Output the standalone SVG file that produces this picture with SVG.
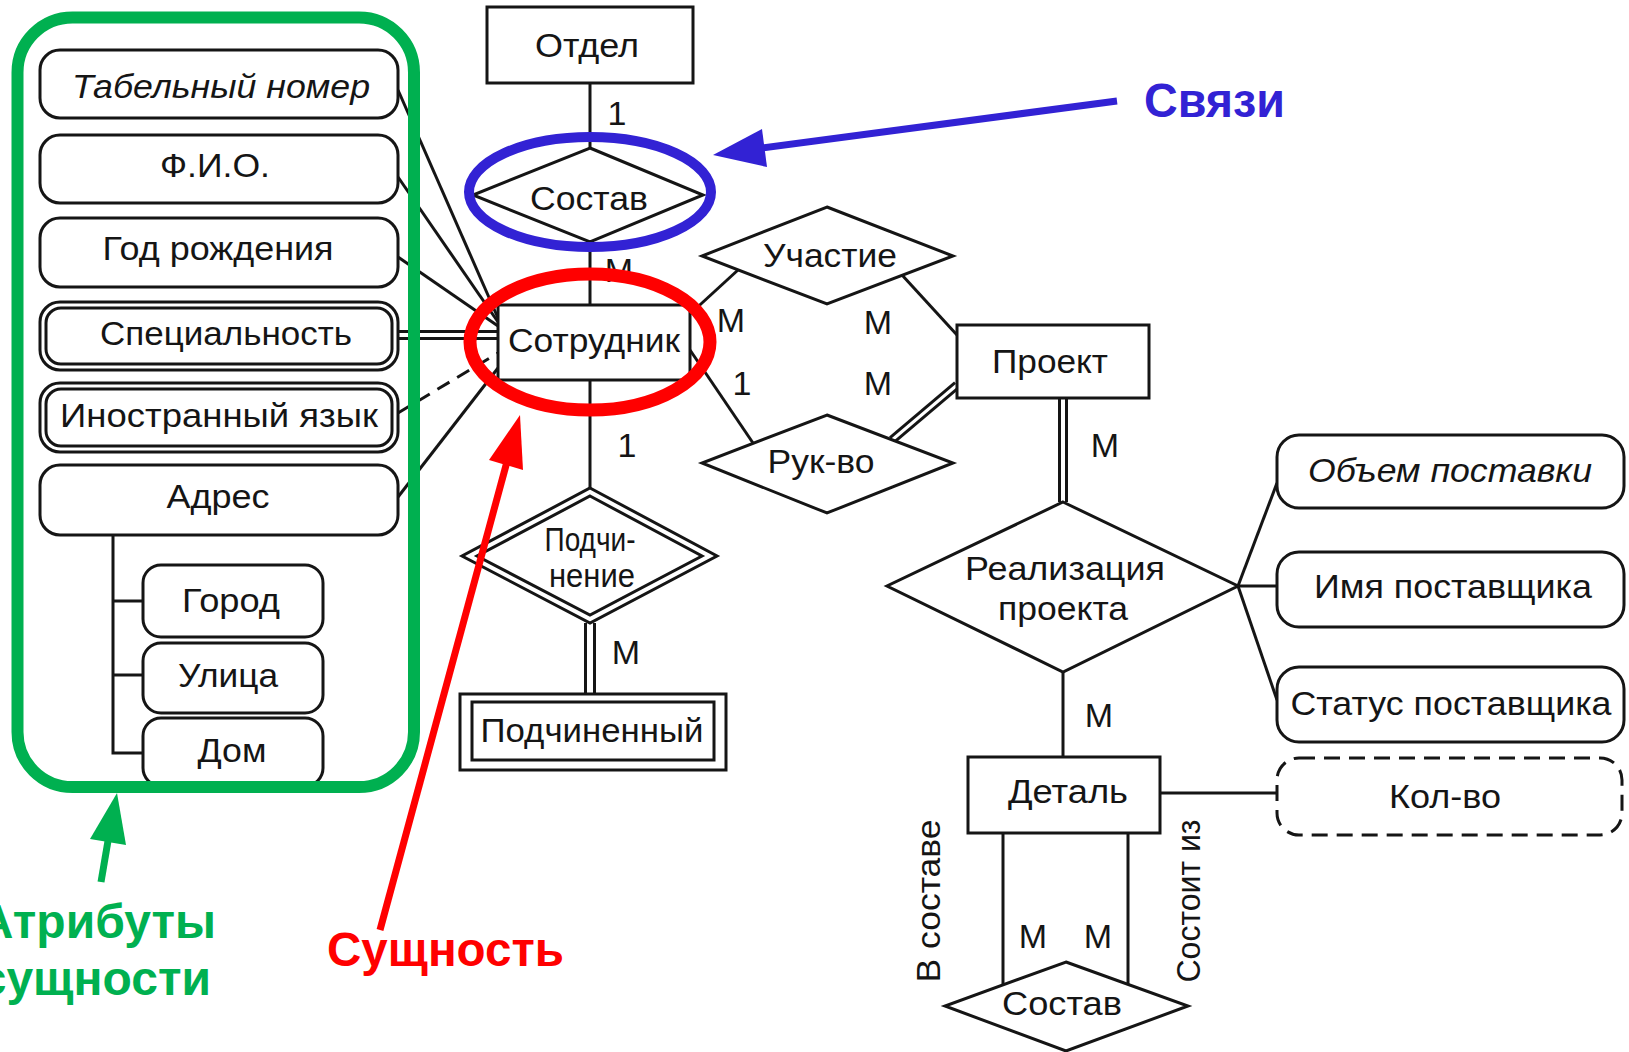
<svg xmlns="http://www.w3.org/2000/svg" width="1629" height="1052" viewBox="0 0 1629 1052">
  <style>
    .ln { stroke: #151515; stroke-width: 3; fill: none; }
    .dash { stroke: #151515; stroke-width: 3; fill: none; stroke-dasharray: 14 9; }
    .dblo { stroke: #151515; fill: none; }
    .dbli { stroke: #ffffff; fill: none; }
    .shape { fill: #ffffff; stroke: #151515; stroke-width: 3; }
    .shape-d { fill: #ffffff; stroke: #151515; stroke-width: 3; stroke-dasharray: 16 9; }
    .t { font-family: "Liberation Sans", Arial, sans-serif; font-size: 34px; fill: #151515; text-anchor: middle; }
    .ti { font-style: italic; }
    .card { font-family: "Liberation Sans", Arial, sans-serif; font-size: 34px; fill: #151515; text-anchor: middle; }
    .note { font-family: "Liberation Sans", Arial, sans-serif; font-size: 48px; font-weight: bold; }
  </style>

  <!-- connectors -->
  <g id="connectors">
    <!-- attributes of Сотрудник -->
    <line class="ln" x1="398" y1="90" x2="498" y2="318"/>
    <line class="ln" x1="398" y1="177" x2="498" y2="322"/>
    <line class="ln" x1="398" y1="257" x2="498" y2="326"/>
    <line class="dblo" x1="398" y1="335" x2="498" y2="335" stroke-width="10"/>
    <line class="dbli" x1="398" y1="335" x2="498" y2="335" stroke-width="4"/>
    <line class="dash" x1="398" y1="413" x2="498" y2="353"/>
    <line class="ln" x1="398" y1="497" x2="498" y2="368"/>
    <!-- Адрес composite -->
    <polyline class="ln" points="113,535 113,753 143,753"/>
    <line class="ln" x1="113" y1="601" x2="143" y2="601"/>
    <line class="ln" x1="113" y1="675" x2="143" y2="675"/>
    <!-- vertical spine -->
    <line class="ln" x1="590" y1="83" x2="590" y2="148"/>
    <line class="ln" x1="590" y1="242" x2="590" y2="305"/>
    <line class="ln" x1="590" y1="380" x2="590" y2="488"/>
    <line class="dblo" x1="590" y1="623" x2="590" y2="694" stroke-width="12"/>
    <line class="dbli" x1="590" y1="623" x2="590" y2="694" stroke-width="6"/>
    <!-- Сотрудник / Участие / Рук-во / Проект -->
    <line class="ln" x1="690" y1="314" x2="738" y2="270"/>
    <line class="ln" x1="902" y1="275" x2="957" y2="335"/>
    <line class="ln" x1="690" y1="350" x2="753" y2="443"/>
    <line class="dblo" x1="892" y1="440" x2="957" y2="385" stroke-width="9"/>
    <line class="dbli" x1="892" y1="440" x2="957" y2="385" stroke-width="3"/>
    <!-- Проект / Реализация проекта / Деталь -->
    <line class="dblo" x1="1063" y1="398" x2="1063" y2="502" stroke-width="10"/>
    <line class="dbli" x1="1063" y1="398" x2="1063" y2="502" stroke-width="4"/>
    <line class="ln" x1="1063" y1="672" x2="1063" y2="757"/>
    <line class="ln" x1="1238" y1="586" x2="1277" y2="483"/>
    <line class="ln" x1="1238" y1="586" x2="1277" y2="586"/>
    <line class="ln" x1="1238" y1="586" x2="1277" y2="700"/>
    <line class="ln" x1="1160" y1="793" x2="1277" y2="793"/>
    <!-- Деталь recursive Состав -->
    <line class="ln" x1="1003" y1="833" x2="1003" y2="985"/>
    <line class="ln" x1="1128" y1="833" x2="1128" y2="984"/>
  </g>

  <!-- cardinality labels -->
  <g id="cardinalities">
    <text class="card" x="617" y="125">1</text>
    <text class="card" x="619" y="282">М</text>
    <text class="card" x="731" y="332">М</text>
    <text class="card" x="878" y="334">М</text>
    <text class="card" x="742" y="395">1</text>
    <text class="card" x="878" y="395">М</text>
    <text class="card" x="627" y="457">1</text>
    <text class="card" x="626" y="664">М</text>
    <text class="card" x="1105" y="457">М</text>
    <text class="card" x="1099" y="727">М</text>
    <text class="card" x="1033" y="948">М</text>
    <text class="card" x="1098" y="948">М</text>
  </g>

  <!-- attributes of Сотрудник -->
  <g id="attr-tabnum">
    <rect class="shape" x="40" y="50" width="358" height="68" rx="20"/>
    <text class="t ti" x="221" y="98" textLength="298" lengthAdjust="spacingAndGlyphs">Табельный номер</text>
  </g>
  <g id="attr-fio">
    <rect class="shape" x="40" y="135" width="358" height="68" rx="20"/>
    <text class="t" x="215" y="177" textLength="110" lengthAdjust="spacingAndGlyphs">Ф.И.О.</text>
  </g>
  <g id="attr-birth">
    <rect class="shape" x="40" y="218" width="358" height="69" rx="20"/>
    <text class="t" x="218" y="260" textLength="231" lengthAdjust="spacingAndGlyphs">Год рождения</text>
  </g>
  <g id="attr-speciality">
    <rect class="shape" x="40" y="302" width="358" height="68" rx="20"/>
    <rect class="shape" x="46" y="308" width="346" height="56" rx="15"/>
    <text class="t" x="226" y="345" textLength="252" lengthAdjust="spacingAndGlyphs">Специальность</text>
  </g>
  <g id="attr-language">
    <rect class="shape" x="40" y="383" width="358" height="69" rx="20"/>
    <rect class="shape" x="46" y="389" width="346" height="57" rx="15"/>
    <text class="t" x="219" y="427" textLength="318" lengthAdjust="spacingAndGlyphs">Иностранный язык</text>
  </g>
  <g id="attr-address">
    <rect class="shape" x="40" y="465" width="358" height="70" rx="20"/>
    <text class="t" x="218" y="508" textLength="103" lengthAdjust="spacingAndGlyphs">Адрес</text>
  </g>
  <g id="attr-city">
    <rect class="shape" x="143" y="565" width="180" height="72" rx="18"/>
    <text class="t" x="231" y="612" textLength="98" lengthAdjust="spacingAndGlyphs">Город</text>
  </g>
  <g id="attr-street">
    <rect class="shape" x="143" y="643" width="180" height="70" rx="18"/>
    <text class="t" x="228" y="687" textLength="100" lengthAdjust="spacingAndGlyphs">Улица</text>
  </g>
  <g id="attr-house">
    <rect class="shape" x="143" y="718" width="180" height="68" rx="18"/>
    <text class="t" x="232" y="762" textLength="69" lengthAdjust="spacingAndGlyphs">Дом</text>
  </g>

  <!-- entities -->
  <g id="ent-otdel">
    <rect class="shape" x="487" y="7" width="206" height="76"/>
    <text class="t" x="587" y="57" textLength="104" lengthAdjust="spacingAndGlyphs">Отдел</text>
  </g>
  <g id="ent-sotrudnik">
    <rect class="shape" x="498" y="305" width="192" height="75"/>
    <text class="t" x="594" y="352" textLength="172" lengthAdjust="spacingAndGlyphs">Сотрудник</text>
  </g>
  <g id="ent-podchinenny">
    <rect class="shape" x="460" y="694" width="266" height="76"/>
    <rect class="shape" x="472" y="702" width="242" height="58"/>
    <text class="t" x="592" y="742" textLength="223" lengthAdjust="spacingAndGlyphs">Подчиненный</text>
  </g>
  <g id="ent-proekt">
    <rect class="shape" x="957" y="325" width="192" height="73"/>
    <text class="t" x="1050" y="373" textLength="116" lengthAdjust="spacingAndGlyphs">Проект</text>
  </g>
  <g id="ent-detal">
    <rect class="shape" x="968" y="757" width="192" height="76"/>
    <text class="t" x="1068" y="803" textLength="120" lengthAdjust="spacingAndGlyphs">Деталь</text>
  </g>

  <!-- relationships -->
  <g id="rel-sostav">
    <polygon class="shape" points="590,148 703,195 590,242 473,195"/>
    <text class="t" x="589" y="210" textLength="118" lengthAdjust="spacingAndGlyphs">Состав</text>
  </g>
  <g id="rel-uchastie">
    <polygon class="shape" points="827,207 953,256 827,304 702,256"/>
    <text class="t" x="830" y="267" textLength="134" lengthAdjust="spacingAndGlyphs">Участие</text>
  </g>
  <g id="rel-rukvo">
    <polygon class="shape" points="827,415 953,463 827,513 702,463"/>
    <text class="t" x="821" y="473" textLength="107" lengthAdjust="spacingAndGlyphs">Рук-во</text>
  </g>
  <g id="rel-podchinenie">
    <polygon class="shape" points="590,488 717,556 590,623 462,556"/>
    <polygon class="shape" points="590,496 702,556 590,615 477,556"/>
    <text class="t" x="590" y="551" font-size="27" textLength="91" lengthAdjust="spacingAndGlyphs">Подчи-</text>
    <text class="t" x="592" y="587" font-size="27" textLength="86" lengthAdjust="spacingAndGlyphs">нение</text>
  </g>
  <g id="rel-realizacia">
    <polygon class="shape" points="1063,502 1238,586 1063,672 887,586"/>
    <text class="t" x="1065" y="580" textLength="200" lengthAdjust="spacingAndGlyphs">Реализация</text>
    <text class="t" x="1063" y="620" textLength="130" lengthAdjust="spacingAndGlyphs">проекта</text>
  </g>
  <g id="rel-sostav-detal">
    <polygon class="shape" points="1066,962 1188,1006 1066,1051 945,1006"/>
    <text class="t" x="1062" y="1015" textLength="120" lengthAdjust="spacingAndGlyphs">Состав</text>
  </g>

  <!-- attributes of Реализация проекта -->
  <g id="attr-volume">
    <rect class="shape" x="1277" y="435" width="347" height="73" rx="22"/>
    <text class="t ti" x="1450" y="482" textLength="284" lengthAdjust="spacingAndGlyphs">Объем поставки</text>
  </g>
  <g id="attr-supplier-name">
    <rect class="shape" x="1277" y="552" width="347" height="75" rx="22"/>
    <text class="t" x="1453" y="598" textLength="278" lengthAdjust="spacingAndGlyphs">Имя поставщика</text>
  </g>
  <g id="attr-supplier-status">
    <rect class="shape" x="1277" y="667" width="347" height="75" rx="22"/>
    <text class="t" x="1451" y="715" textLength="321" lengthAdjust="spacingAndGlyphs">Статус поставщика</text>
  </g>
  <g id="attr-qty">
    <rect class="shape-d" x="1277" y="758" width="345" height="77" rx="22"/>
    <text class="t" x="1445" y="808" textLength="112" lengthAdjust="spacingAndGlyphs">Кол-во</text>
  </g>

  <!-- role names of the recursive link -->
  <g id="roles">
    <text class="t" x="940" y="901" transform="rotate(-90 940 901)" textLength="163" lengthAdjust="spacingAndGlyphs">В составе</text>
    <text class="t" x="1200" y="901" transform="rotate(-90 1200 901)" textLength="163" lengthAdjust="spacingAndGlyphs">Состоит из</text>
  </g>

  <!-- callouts -->
  <g id="callout-attributes">
    <rect x="17.5" y="17.5" width="396.5" height="769.5" rx="55" fill="none" stroke="#00B050" stroke-width="12"/>
    <line x1="101" y1="882" x2="109" y2="835" stroke="#00B050" stroke-width="7"/>
    <polygon points="117,793 126,845 90,839" fill="#00B050"/>
    <text class="note" x="216" y="938" fill="#00B050" text-anchor="end">Атрибуты</text>
    <text class="note" x="211" y="995" fill="#00B050" text-anchor="end">сущности</text>
  </g>
  <g id="callout-relations">
    <ellipse cx="590" cy="192" rx="121" ry="55" fill="none" stroke="#3222D4" stroke-width="10"/>
    <line x1="1117" y1="101" x2="755" y2="149" stroke="#3222D4" stroke-width="7"/>
    <polygon points="713,155 762,129 767,167" fill="#3222D4"/>
    <text class="note" x="1144" y="117" fill="#3222D4" textLength="141" lengthAdjust="spacingAndGlyphs">Связи</text>
  </g>
  <g id="callout-entity">
    <ellipse cx="590" cy="342" rx="120" ry="68" fill="none" stroke="#FF0000" stroke-width="13"/>
    <line x1="380" y1="930" x2="508" y2="458" stroke="#FF0000" stroke-width="7"/>
    <polygon points="520,415 523,470 489,460" fill="#FF0000"/>
    <text class="note" x="327" y="966" fill="#FF0000" textLength="237" lengthAdjust="spacingAndGlyphs">Сущность</text>
  </g>
</svg>
